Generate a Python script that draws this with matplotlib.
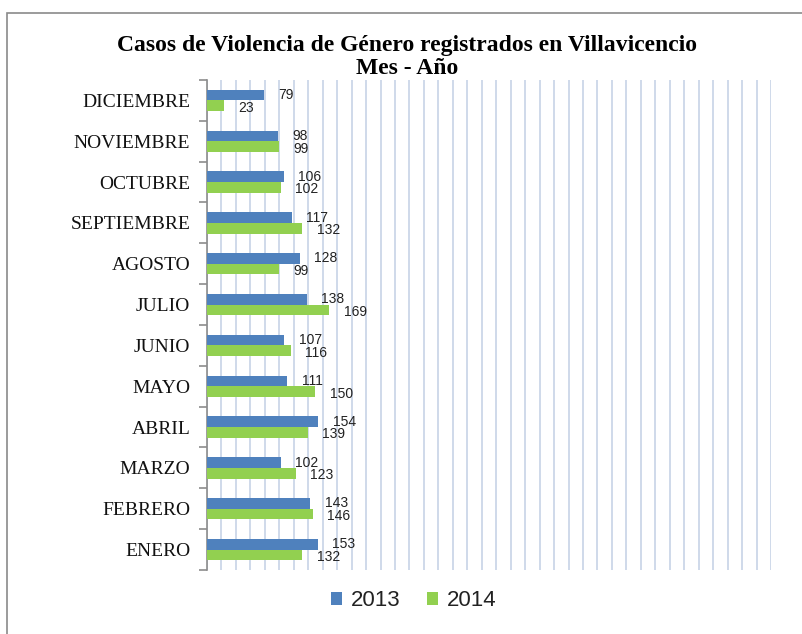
import numpy as np
import matplotlib
matplotlib.use("Agg")
import matplotlib.pyplot as plt
from matplotlib.patches import Rectangle
from matplotlib.ticker import MultipleLocator, FixedLocator

# Months from bottom to top, as drawn
MESES = ['ENERO', 'FEBRERO', 'MARZO', 'ABRIL', 'MAYO', 'JUNIO',
         'JULIO', 'AGOSTO', 'SEPTIEMBRE', 'OCTUBRE', 'NOVIEMBRE', 'DICIEMBRE']
CASOS_2013 = [153, 143, 102, 154, 111, 107, 138, 128, 117, 106, 98, 79]
CASOS_2014 = [132, 146, 123, 139, 150, 116, 169, 99, 132, 102, 99, 23]
YEARS = ['2013', '2014']

BLUE = '#4f81bd'
GREEN = '#92d050'
GRID = '#cfd9ea'
AXIS = '#8c8c8c'

SERIF = ['Liberation Serif', 'DejaVu Serif']
SANS = ['Liberation Sans', 'DejaVu Sans']

fig = plt.figure(figsize=(8.03, 6.34), dpi=100)
W, H = 803, 634

# outer chart border (only left and top edges visible in the frame)
fig.patches.append(Rectangle((7 / W, -0.1), 1.2, (H - 13) / H + 0.1,
                             transform=fig.transFigure, fill=False,
                             edgecolor='#8a8a8a', linewidth=1.2))

ax = fig.add_axes([207 / W, 1 - 570 / H, (771 - 207) / W, (570 - 80) / H])

y = np.arange(len(MESES))
h = 0.26
ax.barh(y + h / 2, CASOS_2013, height=h, color=BLUE, label=YEARS[0], zorder=3)
ax.barh(y - h / 2, CASOS_2014, height=h, color=GREEN, label=YEARS[1], zorder=3)

for yi, v in zip(y, CASOS_2013):
    ax.text(v + 20, yi + h / 2, str(v), va='center', ha='left',
            fontsize=10, family=SANS, color='#222222', zorder=4)
for yi, v in zip(y, CASOS_2014):
    ax.text(v + 20, yi - h / 2 - 0.05, str(v), va='center', ha='left',
            fontsize=10, family=SANS, color='#222222', zorder=4)

ax.set_xlim(0, 780)
ax.set_ylim(-0.5, len(MESES) - 0.5)
ax.xaxis.set_major_locator(MultipleLocator(20))
ax.grid(axis='x', color=GRID, linewidth=1.4, zorder=0)
ax.tick_params(axis='x', length=0, labelbottom=False)

ax.set_yticks(y)
ax.set_yticklabels(MESES, family=SERIF, fontsize=14, color='#111111')
ax.yaxis.set_minor_locator(FixedLocator(np.arange(-0.5, len(MESES), 1)))
ax.tick_params(axis='y', which='major', length=0, pad=12)
ax.tick_params(axis='y', which='minor', length=6, width=1.2, color=AXIS)

for s in ['top', 'right', 'bottom']:
    ax.spines[s].set_visible(False)
ax.spines['left'].set_color(AXIS)
ax.spines['left'].set_linewidth(1.2)

fig.text(407 / W, 1 - 46 / H, 'Casos de Violencia de Género registrados en Villavicencio',
         ha='center', va='center', family=SERIF, fontweight='bold', fontsize=17)
fig.text(407 / W, 1 - 68 / H, 'Mes - Año',
         ha='center', va='center', family=SERIF, fontweight='bold', fontsize=17)

fig.legend(loc='center', bbox_to_anchor=(414 / W, 1 - 601 / H), ncol=2,
           frameon=False, prop={'family': SANS, 'size': 16},
           handlelength=0.5, handleheight=0.5, handletextpad=0.4,
           columnspacing=1.2, labelcolor='#222222')

fig.savefig('out.png', dpi=100)
